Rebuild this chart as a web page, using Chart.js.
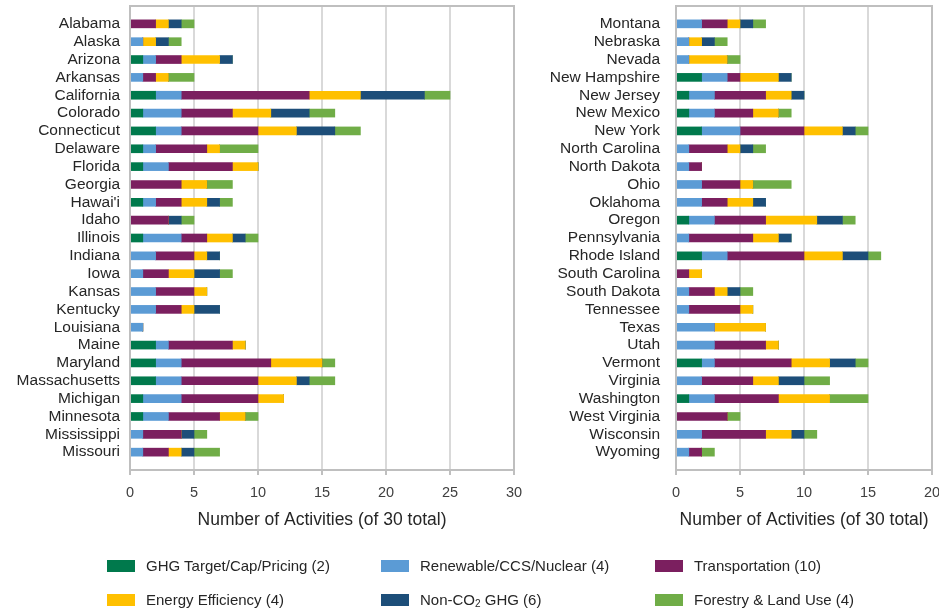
<!DOCTYPE html>
<html>
<head>
<meta charset="utf-8">
<script src="https://cdn.jsdelivr.net/npm/chart.js@4/dist/chart.umd.min.js"></script>
<style>
  html, body { margin: 0; padding: 0; background: #fff; }
  body { width: 939px; height: 613px; position: relative; overflow: hidden; font-family: "Liberation Sans", Arial, sans-serif; }
  #wrapL { position: absolute; left: 0; top: 0; width: 530px; height: 540px; }
  #wrapR { position: absolute; left: 540px; top: 0; width: 399px; height: 540px; }
  #legend { position: absolute; left: 0; top: 0; width: 939px; height: 613px; pointer-events: none; }
  .li { position: absolute; display: flex; align-items: center; font-size: 15px; color: #262626; white-space: nowrap; }
  .sw { width: 28px; height: 12px; margin-right: 11px; }
  sub { font-size: 10px; vertical-align: -2px; line-height: 0; }
</style>
</head>
<body>
<div id="wrapL"><canvas id="cL"></canvas></div>
<div id="wrapR"><canvas id="cR"></canvas></div>
<div id="legend"></div>
<script>
// ---- categories ----
const leftStates = ["Alabama","Alaska","Arizona","Arkansas","California","Colorado","Connecticut","Delaware","Florida","Georgia","Hawai'i","Idaho","Illinois","Indiana","Iowa","Kansas","Kentucky","Louisiana","Maine","Maryland","Massachusetts","Michigan","Minnesota","Mississippi","Missouri"];
const rightStates = ["Montana","Nebraska","Nevada","New Hampshire","New Jersey","New Mexico","New York","North Carolina","North Dakota","Ohio","Oklahoma","Oregon","Pennsylvania","Rhode Island","South Carolina","South Dakota","Tennessee","Texas","Utah","Vermont","Virginia","Washington","West Virginia","Wisconsin","Wyoming"];

// ---- series names ----
const seriesNames = ["GHG Target/Cap/Pricing (2)","Renewable/CCS/Nuclear (4)","Transportation (10)","Energy Efficiency (4)","Non-CO\u2082 GHG (6)","Forestry & Land Use (4)"];
const seriesColors = ["#00794c","#5b9bd5","#7b1f5f","#ffc000","#1d4e79","#70ad47"];

// ---- left chart values ----
const leftGHG       = [0,0,1,0,2,1,2,1,1,0,1,0,1,0,0,0,0,0,2,2,2,1,1,0,0];
const leftRenewable = [0,1,1,1,2,3,2,1,2,0,1,0,3,2,1,2,2,1,1,2,2,3,2,1,1];
const leftTransport = [2,0,2,1,10,4,6,4,5,4,2,3,2,3,2,3,2,0,5,7,6,6,4,3,2];
const leftEfficiency= [1,1,3,1,4,3,3,1,2,2,2,0,2,1,2,1,1,0,1,4,3,2,2,0,1];
const leftNonCO2    = [1,1,1,0,5,3,3,0,0,0,1,1,1,1,2,0,2,0,0,0,1,0,0,1,1];
const leftForestry  = [1,1,0,2,2,2,2,3,0,2,1,1,1,0,1,0,0,0,0,1,2,0,1,1,2];

// ---- right chart values ----
const rightGHG       = [0,0,0,2,1,1,2,0,0,0,0,1,0,2,0,0,0,0,0,2,0,1,0,0,0];
const rightRenewable = [2,1,1,2,2,2,3,1,1,2,2,2,1,2,0,1,1,3,3,1,2,2,0,2,1];
const rightTransport = [2,0,0,1,4,3,5,3,1,3,2,4,5,6,1,2,4,0,4,6,4,5,4,5,1];
const rightEfficiency= [1,1,3,3,2,2,3,1,0,1,2,4,2,3,1,1,1,4,1,3,2,4,0,2,0];
const rightNonCO2    = [1,1,0,1,1,0,1,1,0,0,1,2,1,2,0,1,0,0,0,2,2,0,0,1,0];
const rightForestry  = [1,1,1,0,0,1,1,1,0,3,0,1,0,1,0,1,0,0,0,1,2,3,1,1,1];

// ---- axis ticks ----
const leftMax = 30, rightMax = 20, tickStep = 5;
const axisTitle = "Number of Activities (of 30 total)";

const pad = arr => [null, ...arr, null];

const framePlugin = {
  id: 'frame',
  afterDraw(chart) {
    const a = chart.chartArea, ctx = chart.ctx;
    ctx.save();
    ctx.strokeStyle = '#bfbfbf';
    ctx.lineWidth = 2;
    ctx.strokeRect(a.left, a.top, a.right - a.left, a.bottom - a.top);
    ctx.restore();
  }
};

function makeChart(id, states, series, xmax, yWidth, labelPad, padRight, W, H) {
  const canvas = document.getElementById(id);
  canvas.width = W; canvas.height = H;
  return new Chart(canvas, {
    type: 'bar',
    data: {
      labels: pad(states.slice()).map(s => s === null ? '' : s),
      datasets: series.map((d, i) => ({
        label: seriesNames[i],
        data: pad(d),
        backgroundColor: seriesColors[i],
        borderWidth: 0,
        barThickness: 8
      }))
    },
    options: {
      indexAxis: 'y',
      responsive: false,
      animation: false,
      devicePixelRatio: 1,
      layout: { padding: { top: 6, right: padRight, bottom: 0, left: 0 } },
      plugins: { legend: { display: false }, tooltip: { enabled: false } },
      scales: {
        x: {
          stacked: true,
          min: 0, max: xmax,
          ticks: { stepSize: tickStep, color: '#404040', font: { family: 'Liberation Sans', size: 14.5 }, padding: 9 },
          grid: {
            color: ctx => (ctx.index === 0 || ctx.tick && ctx.tick.value === xmax) ? '#bfbfbf' : '#d9d9d9',
            lineWidth: 2,
            tickLength: 5,
            tickColor: '#bfbfbf'
          },
          border: { color: '#bfbfbf', width: 2 },
          title: { display: true, text: axisTitle, color: '#262626', font: { family: 'Liberation Sans', size: 17.5 }, padding: { top: 0, bottom: 9 } },
          afterFit: s => { s.height = H - 470; s.paddingLeft = 0; s.paddingRight = 0; }
        },
        y: {
          stacked: true,
          offset: false,
          ticks: { autoSkip: false, color: '#262626', font: { family: 'Liberation Sans', size: 15.5 }, padding: labelPad },
          grid: { display: false, drawTicks: false },
          border: { color: '#bfbfbf', width: 2 },
          afterFit: s => { s.width = yWidth; s.paddingTop = 0; s.paddingBottom = 0; }
        }
      }
    },
    plugins: [framePlugin]
  });
}

makeChart('cL', leftStates,
  [leftGHG, leftRenewable, leftTransport, leftEfficiency, leftNonCO2, leftForestry],
  leftMax, 130, 10, 16, 530, 540);
makeChart('cR', rightStates,
  [rightGHG, rightRenewable, rightTransport, rightEfficiency, rightNonCO2, rightForestry],
  rightMax, 136, 16, 7, 399, 540);

// ---- HTML legend built from series names / colors ----
const legendPos = [[107,566],[381,566],[655,566],[107,600],[381,600],[655,600]];
const lg = document.getElementById('legend');
seriesNames.forEach((name, i) => {
  const d = document.createElement('div');
  d.className = 'li';
  d.style.left = legendPos[i][0] + 'px';
  d.style.top = (legendPos[i][1] - 9) + 'px';
  const sw = document.createElement('span');
  sw.className = 'sw';
  sw.style.background = seriesColors[i];
  const t = document.createElement('span');
  if (name.indexOf('\u2082') >= 0) {
    const parts = name.split('\u2082');
    t.appendChild(document.createTextNode(parts[0]));
    const sb = document.createElement('sub'); sb.textContent = '2';
    t.appendChild(sb);
    t.appendChild(document.createTextNode(parts[1]));
  } else {
    t.textContent = name;
  }
  d.appendChild(sw); d.appendChild(t);
  lg.appendChild(d);
});
</script>
</body>
</html>
